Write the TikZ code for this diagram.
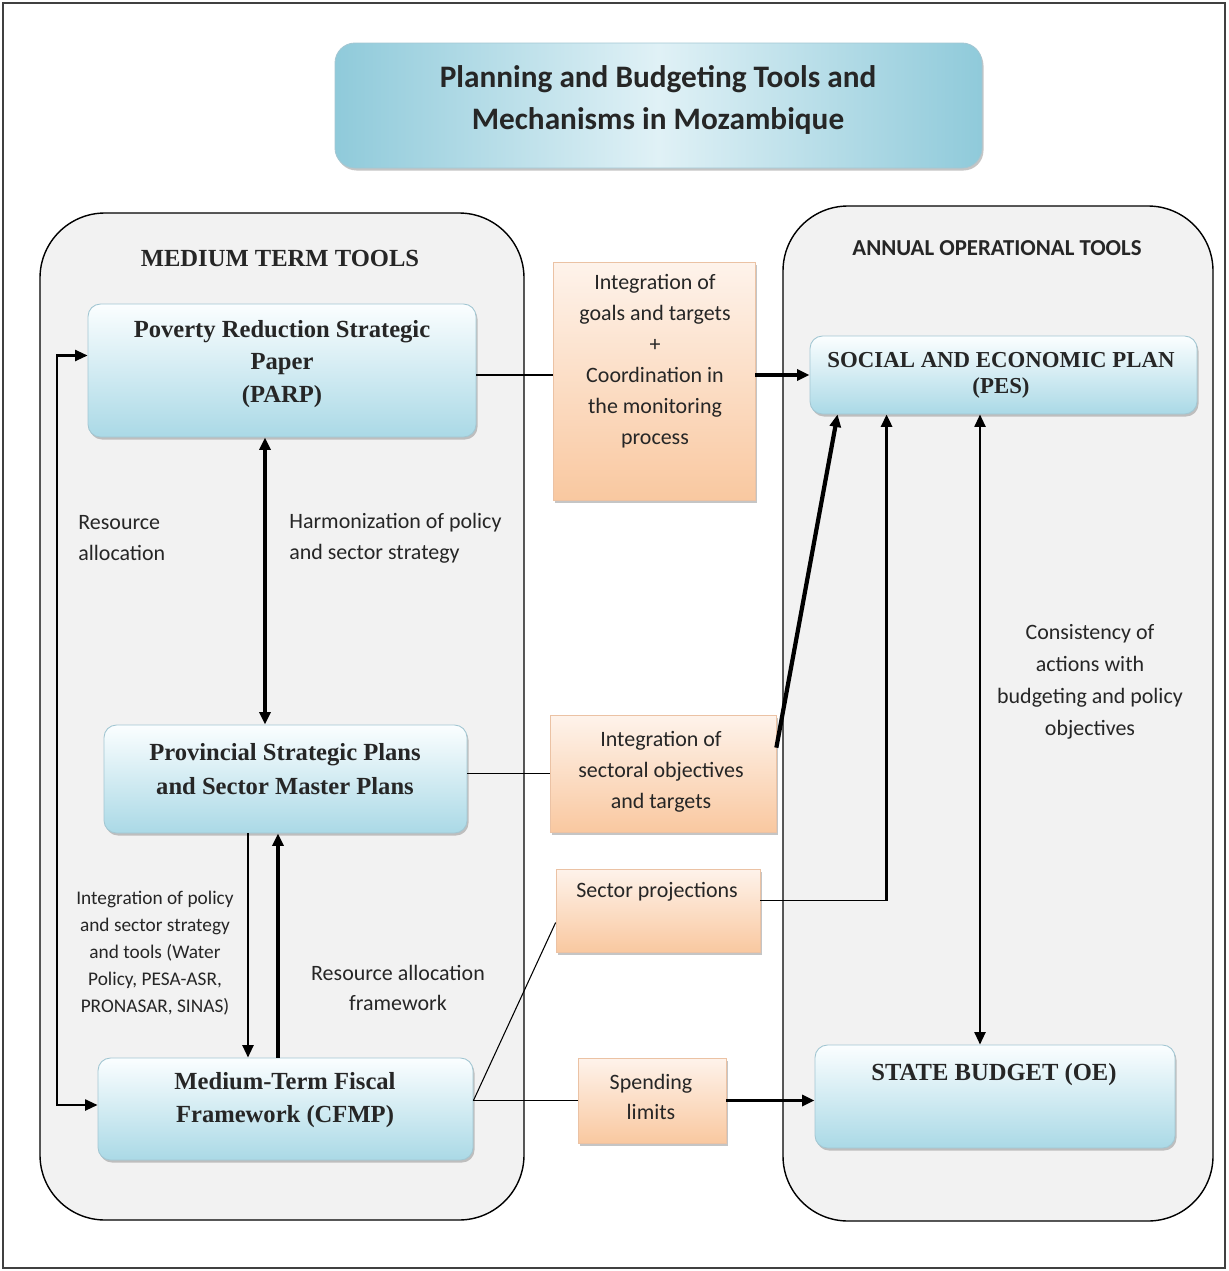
\documentclass[tikz,border=0pt]{standalone}
\usepackage{fontspec}
\setmainfont{Carlito}
\newfontfamily\tnr{Liberation Serif}
\usetikzlibrary{arrows.meta,calc,fit,shadows}
\definecolor{cont}{HTML}{F2F2F2}
\definecolor{bluetop}{HTML}{FBFEFF}
\definecolor{bluebot}{HTML}{AAD9E6}
\definecolor{blueline}{HTML}{A3C7D3}
\definecolor{titleedge}{HTML}{8FCADA}
\definecolor{titlemid}{HTML}{E0F1F6}
\definecolor{ortop}{HTML}{FEF3EB}
\definecolor{orbot}{HTML}{F9C8A0}
\definecolor{orline}{HTML}{EBC2A4}
\definecolor{txt}{HTML}{262626}
\begin{document}
\begin{tikzpicture}[x=0.02cm,y=-0.02cm,
  container/.style={draw=black, line width=0.8pt, fill=cont, rounded corners=1.3cm, inner sep=0pt},
  shad/.style={drop shadow={shadow xshift=0.03cm, shadow yshift=-0.05cm, opacity=0.45, fill=gray}},
  titlebox/.style={inner sep=0pt, draw=blueline, line width=0.5pt, rounded corners=0.4cm, left color=titleedge, right color=titleedge, middle color=titlemid, shad},
  bluebox/.style={inner sep=0pt, draw=blueline, line width=0.5pt, rounded corners=0.25cm, top color=bluetop, bottom color=bluebot, shad},
  orbox/.style={inner sep=0pt, draw=orline, line width=0.4pt, top color=ortop, bottom color=orbot, shad},
  sertext/.style={font=\tnr\bfseries\fontsize{14}{18.7}\selectfont, align=center, text=txt, inner sep=0pt},
  caltext/.style={font=\fontsize{12.5}{17.6}\selectfont, align=center, text=txt, inner sep=0pt},
  lnthin/.style={line width=0.6pt},
  lnmed/.style={line width=1.3pt},
  lnthick/.style={line width=1.9pt},
  lnxthick/.style={line width=2.4pt},
  arr/.style={arrows={-Triangle[length=0.25cm,width=0.22cm]}},
  darr/.style={arrows={Triangle[length=0.25cm,width=0.22cm]-Triangle[length=0.25cm,width=0.22cm]}},
]
\useasboundingbox (0,0) rectangle (1228,1271);
\fill[white] (0,0) rectangle (1228,1271);
\draw[line width=1pt, draw=black!75] (3,3) rectangle (1225,1268);

% title
\node[titlebox, fit={(335,43) (982,168)}] (title) {};
\node[font=\bfseries\fontsize{17.8}{24.4}\selectfont, align=center, text=txt, inner sep=0pt] (titleT) at (658,100) {Planning and Budgeting Tools and\\Mechanisms in Mozambique};

% containers
\node[container, fit={(40,213) (524,1220)}] (leftC) {};
\node[container, fit={(783,206) (1213,1221)}] (rightC) {};
\node[sertext] (leftT) at (280,258) {MEDIUM TERM TOOLS};
\node[font=\bfseries\fontsize{13}{16}\selectfont, text=txt, inner sep=0pt] (rightT) at (997,248) {ANNUAL OPERATIONAL TOOLS};

% blue boxes
\node[bluebox, fit={(88,304) (476,437)}] (parp) {};
\node[sertext] (parpT) at (282,364) {Poverty Reduction Strategic\\Paper\\(PARP)};
\node[bluebox, fit={(104,725) (467,833)}] (prov) {};
\node[sertext, font=\tnr\bfseries\fontsize{14}{19.3}\selectfont] (provT) at (285,769) {Provincial Strategic Plans\\and Sector Master Plans};
\node[bluebox, fit={(98,1058) (473,1160)}] (cfmp) {};
\node[sertext] (cfmpT) at (285,1100) {Medium-Term Fiscal\\Framework (CFMP)};
\node[bluebox, fit={(810,336) (1197,414)}] (pes) {};
\node[sertext, font=\tnr\bfseries\fontsize{13}{14.7}\selectfont] (pesT) at (1001,375) {SOCIAL AND ECONOMIC PLAN\\(PES)};
\node[bluebox, fit={(815,1045) (1175,1148)}] (sb) {};
\node[sertext] (sbT) at (994,1075) {STATE BUDGET (OE)};

% orange boxes
\node[orbox, fit={(553,262) (755,500)}] (o1) {};
\node[caltext] (o1T) at (655,361) {Integration of\\goals and targets\\+\\Coordination in\\the monitoring\\process};
\node[orbox, fit={(550,715) (776,832)}] (o2) {};
\node[caltext] (o2T) at (661,772) {Integration of\\sectoral objectives\\and targets};
\node[orbox, fit={(556,869) (760,952)}] (sp) {};
\node[caltext] (spT) at (657,892) {Sector projections};
\node[orbox, fit={(578,1058) (726,1143)}] (sl) {};
\node[caltext, font=\fontsize{12.5}{17}\selectfont] (slT) at (651,1097) {Spending\\limits};

% free labels
\node[caltext, align=left, anchor=west] (raT) at (78,538) {Resource\\allocation};
\node[caltext, align=left, anchor=west] (harmT) at (289,538) {Harmonization of policy\\and sector strategy};
\node[caltext, font=\fontsize{11}{15.3}\selectfont] (intT) at (155,953) {Integration of policy\\and sector strategy\\and tools (Water\\Policy, PESA-ASR,\\PRONASAR, SINAS)};
\node[caltext, font=\fontsize{12.5}{17}\selectfont] (rafT) at (398,988) {Resource allocation\\framework};
\node[caltext, font=\fontsize{12.5}{18.1}\selectfont] (consT) at (1090,682) {Consistency of\\actions with\\budgeting and policy\\objectives};

% coordinates
\coordinate (lpA) at ($(parp.west)+(0,-15)$);
\coordinate (lpC) at ($(cfmp.west)+(0,-4)$);
\coordinate (lpX) at (57,0);
\coordinate (hA) at ($(parp.south)+(-17,0)$);
\coordinate (dA) at ($(prov.south)+(-37.5,0)$);
\coordinate (uA) at ($(cfmp.north)+(-7.5,0)$);
\coordinate (spA) at ($(sp.east)+(0,-10)$);
\coordinate (spB) at ($(pes.south west)+(77,0)$);
\coordinate (cfA) at (cfmp.east |- sl.west);
\coordinate (psA) at ($(pes.south)+(-23.5,0)$);

% connectors
\draw[lnmed, darr] (lpA) -- (lpA -| lpX) -- (lpC -| lpX) -- (lpC);
\draw[lnthick, darr] (hA) -- (hA |- prov.north);
\draw[lnmed, arr] (dA) -- (dA |- cfmp.north);
\draw[lnxthick, arr] (uA) -- (uA |- prov.south);
\draw[lnthin] (parp.east |- pes.west) -- (o1.west |- pes.west);
\draw[lnthick, arr] (o1.east |- pes.west) -- (pes.west);
\draw[lnthin] (prov.east |- o2.west) -- (o2.west);
\draw[lnxthick, arr] ($(o2.north east)+(0,33)$) -- ($(pes.south west)+(28,0)$);
\draw[lnthin] (spA) -- (spA -| spB);
\draw[lnthick, arr] (spA -| spB) -- (spB);
\draw[lnthin] (cfA) -- ($(sp.west)+(0,12)$);
\draw[lnthin] (cfA) -- (sl.west);
\draw[lnthick, arr] (sl.east) -- (sl.east -| sb.west);
\draw[lnmed, darr] (psA) -- (psA |- sb.north);
\end{tikzpicture}
\end{document}
